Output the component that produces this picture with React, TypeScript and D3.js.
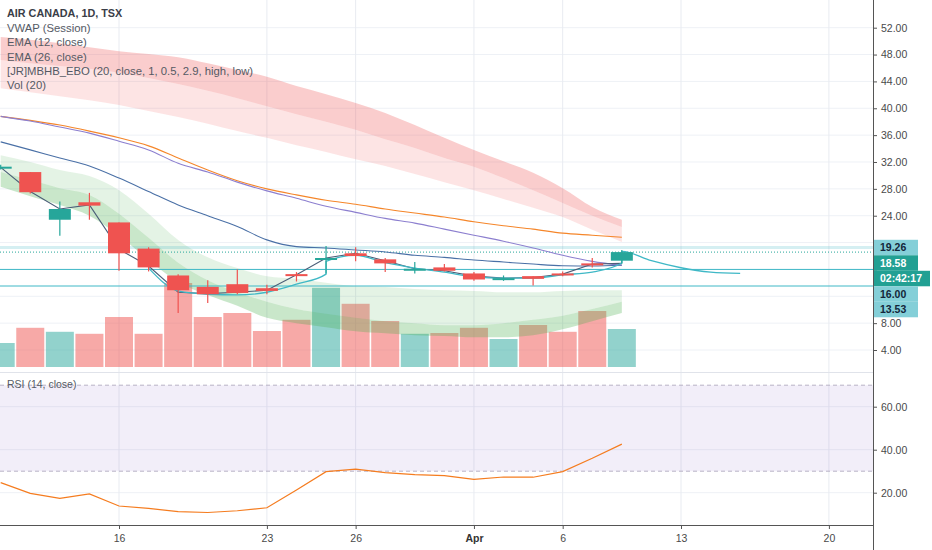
import React, { useEffect, useRef } from "react";
import * as d3 from "d3";

// trading days, Mar 10 .. Apr 8 2020 (index 0..21); index 22+ = future days
const days = [
  "Mar 10", "Mar 11", "Mar 12", "Mar 13", "Mar 16", "Mar 17", "Mar 18", "Mar 19",
  "Mar 20", "Mar 23", "Mar 24", "Mar 25", "Mar 26", "Mar 27", "Mar 30", "Mar 31",
  "Apr 1", "Apr 2", "Apr 3", "Apr 6", "Apr 7", "Apr 8",
];
const open = [31.1, 30.5, 23.4, 26.0, 23.0, 19.1, 15.1, 13.4, 13.8, 13.2, 15.3, 17.5, 18.4, 17.5, 16.0, 16.3, 15.4, 14.6, 15.0, 15.4, 16.9, 17.3];
const high = [31.6, 30.5, 26.1, 27.4, 23.0, 19.3, 15.3, 14.4, 16.0, 13.7, 15.6, 19.5, 19.3, 17.7, 17.1, 16.8, 15.6, 15.1, 15.0, 15.7, 17.7, 18.9];
const low = [30.9, 27.3, 21.0, 23.4, 15.8, 15.7, 9.5, 11.0, 12.3, 12.3, 14.2, 15.4, 17.2, 15.6, 15.4, 15.7, 14.3, 14.3, 13.6, 15.0, 16.3, 16.9];
const close = [31.3, 27.5, 25.0, 25.5, 18.4, 16.3, 12.9, 12.3, 12.5, 12.8, 15.0, 17.7, 18.0, 16.9, 16.1, 15.8, 14.5, 14.7, 14.6, 15.2, 16.7, 18.58];
const volume = [6.0, 9.8, 8.8, 8.3, 12.5, 8.3, 21.0, 12.5, 13.5, 9.0, 11.8, 19.8, 15.8, 11.5, 8.3, 8.5, 9.8, 7.0, 10.5, 8.8, 14.0, 9.5];

const vwap = [31.2, 27.6, 25.0, 25.6, 19.0, 16.5, 12.6, 12.4, 12.6, 12.9, 15.2, 17.7, 18.4, 17.3, 16.1, 15.8, 15.0, 14.7, 14.8, 15.3, 16.8, 16.9];
const ema12 = [35.0, 33.8, 32.6, 31.4, 29.6, 27.6, 25.6, 24.0, 22.4, 20.4, 19.4, 19.2, 18.9, 18.6, 18.1, 17.8, 17.4, 17.1, 16.8, 16.55, 16.5, 16.65];
const ema26 = [38.8, 38.2, 37.5, 36.6, 35.6, 34.4, 32.6, 30.8, 29.2, 28.0, 27.1, 26.3, 25.7, 25.0, 24.4, 23.8, 23.1, 22.5, 22.0, 21.4, 21.1, 20.8];
const signal = [38.8, 38.1, 37.2, 36.3, 35.1, 33.8, 31.8, 30.5, 29.0, 27.7, 26.6, 25.4, 24.5, 23.6, 22.9, 22.0, 21.1, 20.2, 19.2, 18.1, 17.2, 16.6];

// EBO bands
const redTop = [50.6, 50.2, 49.7, 49.1, 48.5, 48.1, 47.6, 46.7, 45.7, 44.7, 43.3, 42.1, 40.8, 39.3, 37.5, 35.6, 33.8, 32.1, 30.4, 28.1, 25.3, 23.4];
const redMid = [47.2, 46.7, 46.3, 45.9, 45.3, 44.5, 43.6, 42.6, 41.5, 40.3, 39.1, 38.0, 36.8, 35.4, 34.1, 32.6, 31.3, 29.6, 27.8, 25.9, 24.0, 22.3];
const redLow = [43.0, 42.4, 41.8, 41.2, 40.5, 39.6, 38.7, 37.7, 36.6, 35.6, 34.5, 33.5, 32.4, 31.4, 30.2, 29.0, 27.8, 26.5, 25.2, 23.8, 21.9, 20.1];
const greenTop = [33.0, 32.0, 30.8, 29.9, 27.8, 24.3, 20.4, 17.8, 16.2, 15.0, 14.6, 14.0, 13.5, 13.4, 13.1, 12.9, 12.8, 12.6, 12.6, 12.8, 12.9, 12.9];
const greenMid = [30.5, 29.3, 28.1, 27.1, 24.3, 20.7, 17.0, 14.4, 12.6, 11.2, 10.1, 9.4, 8.8, 8.3, 8.0, 7.7, 7.7, 8.0, 8.5, 9.1, 10.1, 11.2];
const greenLow = [28.3, 26.9, 25.6, 24.0, 21.0, 17.4, 14.1, 12.2, 10.6, 8.8, 8.0, 7.4, 6.8, 6.5, 6.2, 6.1, 5.9, 5.9, 6.2, 7.1, 8.3, 9.5];

// cyan line: [bar index, value]
const cyanLine: [number, number][] = [
  [5, 16.2], [6, 12.8], [7, 12.3], [8, 12.2], [9, 12.6], [10, 13.8], [11, 15.3], [11, 17.2],
  [12, 18.1], [13, 17.0], [14, 16.2], [15, 15.6], [16, 14.9], [17, 14.7], [18, 14.7], [19, 15.2],
  [20, 15.6], [21, 16.96], [21, 18.7], [22, 17.3], [23, 16.25], [24, 15.6], [25, 15.4],
];

const rsi = [24.7, 19.7, 17.4, 19.4, 13.8, 12.7, 11.2, 10.8, 11.6, 13.0, 21.3, 29.8, 31.0, 29.3, 28.4, 27.9, 26.2, 27.3, 27.2, 29.8, 36.0, 42.6];

const priceTicks = d3.range(4, 53, 4);
const hiddenTickLabels = [12, 16, 20]; // covered by the price tags
const rsiTicks = [20, 40, 60];
const timeTickIdx = [4, 9, 12, 16, 19, 23, 28];
const timeTickLabels = ["16", "23", "26", "Apr", "6", "13", "20"];

const priceTags = [
  { v: 19.26, label: "19.26", dark: false },
  { v: 18.58, label: "18.58", dark: true },
  { v: 18.58, label: "02:42:17", dark: true },
  { v: 16.0, label: "16.00", dark: false },
  { v: 13.53, label: "13.53", dark: false },
];

const legend = [
  "VWAP (Session)",
  "EMA (12, close)",
  "EMA (26, close)",
  "[JR]MBHB_EBO (20, close, 1, 0.5, 2.9, high, low)",
  "Vol (20)",
];

const RED = "#ef5350";
const TEAL = "#26a69a";
const CYAN = "#3fb8c6";
const FONT = "'Liberation Sans', Arial, sans-serif";

const Chart: React.FC = () => {
  const ref = useRef<SVGSVGElement | null>(null);

  useEffect(() => {
    if (!ref.current) return;
    const svg = d3.select(ref.current);
    svg.selectAll("*").remove();

    const W = 932;
    const H = 550;
    const axisX = 873;
    const paneBottom = 372;
    const rsiBottom = 525;

    const x = d3.scaleLinear().domain([4, 23]).range([119, 681]);
    const y = d3.scaleLinear().domain([4, 52]).range([350, 27.7]);
    const yVol = d3.scaleLinear().domain([0, 25]).range([367, 267]);
    const yR = d3.scaleLinear().domain([20, 60]).range([492.7, 406.7]);

    svg.append("rect").attr("width", W).attr("height", H).attr("fill", "#fff");

    const defs = svg.append("defs");
    defs.append("clipPath").attr("id", "clipPrice")
      .append("rect").attr("x", 0).attr("y", 0).attr("width", axisX).attr("height", paneBottom);
    defs.append("clipPath").attr("id", "clipRsi")
      .append("rect").attr("x", 0).attr("y", paneBottom + 1).attr("width", axisX).attr("height", rsiBottom - paneBottom - 1);

    // grid
    const grid = svg.append("g");
    priceTicks.forEach((t) => {
      grid.append("line").attr("x1", 0).attr("x2", axisX).attr("y1", y(t)).attr("y2", y(t))
        .attr("stroke", "#eef1f6").attr("stroke-width", 1);
    });
    rsiTicks.forEach((t) => {
      grid.append("line").attr("x1", 0).attr("x2", axisX).attr("y1", yR(t)).attr("y2", yR(t))
        .attr("stroke", "#eef1f6").attr("stroke-width", 1);
    });
    timeTickIdx.forEach((t) => {
      grid.append("line").attr("x1", x(t)).attr("x2", x(t)).attr("y1", 0).attr("y2", rsiBottom)
        .attr("stroke", "#e8ebf1").attr("stroke-width", 1);
    });

    const price = svg.append("g").attr("clip-path", "url(#clipPrice)");
    const idx = d3.range(days.length);
    const bw = 29.6;

    // volume
    price.append("g").selectAll("rect").data(idx).join("rect")
      .attr("x", (i) => x(i) - bw / 2 + 0.8)
      .attr("width", bw - 1.6)
      .attr("y", (i) => yVol(volume[i]))
      .attr("height", (i) => yVol(0) - yVol(volume[i]))
      .attr("fill", (i) => (close[i] >= open[i] ? TEAL : RED))
      .attr("fill-opacity", 0.5);

    // bands
    const band = (a: number[], b: number[], color: string, op: number) => {
      const area = d3.area<number>()
        .x((i) => x(i))
        .y0((i) => y(a[i]))
        .y1((i) => y(b[i]))
        .curve(d3.curveMonotoneX);
      price.append("path").datum(idx).attr("d", area).attr("fill", color).attr("fill-opacity", op);
    };
    band(redTop, redMid, "#f05a5a", 0.3);
    band(redMid, redLow, "#f05a5a", 0.16);
    band(greenTop, greenMid, "#4caf50", 0.15);
    band(greenMid, greenLow, "#4caf50", 0.3);

    // horizontal price lines
    price.append("line").attr("x1", 0).attr("x2", axisX).attr("y1", y(19.26)).attr("y2", y(19.26))
      .attr("stroke", CYAN).attr("stroke-opacity", 0.22).attr("stroke-width", 3);
    price.append("line").attr("x1", 0).attr("x2", axisX).attr("y1", y(18.58)).attr("y2", y(18.58))
      .attr("stroke", TEAL).attr("stroke-width", 1).attr("stroke-dasharray", "1,2");
    [16.0, 13.53].forEach((v) => {
      price.append("line").attr("x1", 0).attr("x2", axisX).attr("y1", y(v)).attr("y2", y(v))
        .attr("stroke", CYAN).attr("stroke-width", 1);
    });

    // indicator lines
    const line = (vals: number[], color: string, curve = d3.curveMonotoneX) => {
      const l = d3.line<number>().x((i) => x(i)).y((i) => y(vals[i])).curve(curve);
      price.append("path").datum(idx).attr("d", l).attr("fill", "none")
        .attr("stroke", color).attr("stroke-width", 1.1);
    };
    line(ema26, "#f5862a");
    line(signal, "#8c7fcf");
    line(ema12, "#4a70a6");
    line(vwap, "#4b5e78", d3.curveLinear);

    const cyan = d3.line<[number, number]>().x((d) => x(d[0])).y((d) => y(d[1])).curve(d3.curveMonotoneX);
    price.append("path").datum(cyanLine).attr("d", cyan).attr("fill", "none")
      .attr("stroke", CYAN).attr("stroke-width", 1.3);

    // candles
    const cw = 22;
    const candles = price.append("g").selectAll("g").data(idx).join("g");
    candles.append("line")
      .attr("x1", (i) => x(i)).attr("x2", (i) => x(i))
      .attr("y1", (i) => y(high[i])).attr("y2", (i) => y(low[i]))
      .attr("stroke", (i) => (close[i] >= open[i] ? TEAL : RED)).attr("stroke-width", 1.2);
    candles.append("rect")
      .attr("x", (i) => x(i) - cw / 2)
      .attr("width", cw)
      .attr("y", (i) => y(Math.max(open[i], close[i])))
      .attr("height", (i) => Math.max(2, Math.abs(y(open[i]) - y(close[i]))))
      .attr("fill", (i) => (close[i] >= open[i] ? TEAL : RED));

    // RSI pane
    const rsiG = svg.append("g").attr("clip-path", "url(#clipRsi)");
    rsiG.append("rect").attr("x", 0).attr("width", axisX)
      .attr("y", yR(70)).attr("height", yR(30) - yR(70))
      .attr("fill", "#7e57c2").attr("fill-opacity", 0.1);
    [70, 30].forEach((v) => {
      rsiG.append("line").attr("x1", 0).attr("x2", axisX).attr("y1", yR(v)).attr("y2", yR(v))
        .attr("stroke", "#b8b2c6").attr("stroke-dasharray", "4,3");
    });
    const rsiLine = d3.line<number>().x((i) => x(i)).y((i) => yR(rsi[i]));
    rsiG.append("path").datum(idx).attr("d", rsiLine).attr("fill", "none")
      .attr("stroke", "#f57c1f").attr("stroke-width", 1.2);

    // pane divider and axis lines
    svg.append("line").attr("x1", 0).attr("x2", axisX).attr("y1", paneBottom + 0.5).attr("y2", paneBottom + 0.5)
      .attr("stroke", "#e0e3ea");
    svg.append("line").attr("x1", 0).attr("x2", axisX).attr("y1", rsiBottom + 0.5).attr("y2", rsiBottom + 0.5)
      .attr("stroke", "#555");
    svg.append("line").attr("x1", axisX + 0.5).attr("x2", axisX + 0.5).attr("y1", 0).attr("y2", H)
      .attr("stroke", "#555");

    const styleAxis = (g: d3.Selection<SVGGElement, unknown, null, undefined>) => {
      g.select(".domain").remove();
      g.selectAll("line").attr("stroke", "#555");
      g.selectAll("text").attr("fill", "#4a4a4a").style("font-family", FONT).style("font-size", "10.5px");
    };

    svg.append("g").attr("transform", `translate(${axisX},0)`)
      .call(d3.axisRight(y).tickValues(priceTicks)
        .tickFormat((d) => (hiddenTickLabels.includes(+d) ? "" : d3.format(".2f")(+d)))
        .tickSize(4).tickPadding(4))
      .call(styleAxis);
    svg.append("g").attr("transform", `translate(${axisX},0)`)
      .call(d3.axisRight(yR).tickValues(rsiTicks).tickFormat(d3.format(".2f")).tickSize(4).tickPadding(4))
      .call(styleAxis);
    const xAxis = svg.append("g").attr("transform", `translate(0,${rsiBottom})`)
      .call(d3.axisBottom(x).tickValues(timeTickIdx)
        .tickFormat((_, i) => timeTickLabels[i]).tickSize(4).tickPadding(6))
      .call(styleAxis);
    xAxis.selectAll("text").filter((d) => d === 16).attr("font-weight", "bold").attr("fill", "#333");

    // price tags on the axis
    let prev = -Infinity;
    const tagH = 15.5;
    priceTags.forEach((t) => {
      const cy = Math.max(y(t.v), prev + tagH);
      prev = cy;
      const w = t.label.length > 5 ? 56 : 44;
      svg.append("rect").attr("x", axisX + 1).attr("y", cy - tagH / 2).attr("width", w).attr("height", tagH)
        .attr("fill", t.dark ? "#22a093" : "#84cfd8");
      svg.append("text").attr("x", axisX + 7).attr("y", cy).attr("dy", "0.35em")
        .style("font-family", FONT).style("font-size", "10.5px").attr("font-weight", 600)
        .attr("fill", t.dark ? "#fff" : "#13263a")
        .text(t.label);
    });

    // legends
    svg.append("text").attr("x", 7).attr("y", 13).attr("dy", "0.35em")
      .style("font-family", FONT).style("font-size", "10.8px").attr("font-weight", "bold")
      .attr("fill", "#3a3e48").text("AIR CANADA, 1D, TSX");
    legend.forEach((s, k) => {
      svg.append("text").attr("x", 7).attr("y", 28 + k * 14.3).attr("dy", "0.35em")
        .style("font-family", FONT).style("font-size", "11.3px")
        .attr("fill", "#555a64").text(s);
    });
    svg.append("text").attr("x", 7).attr("y", 384).attr("dy", "0.35em")
      .style("font-family", FONT).style("font-size", "10.5px")
      .attr("fill", "#555a64").text("RSI (14, close)");
  }, []);

  return <svg ref={ref} width={932} height={550} style={{ display: "block" }}></svg>;
};

export default function App() {
  return (
    <div style={{ position: "fixed", left: 0, top: 0, width: 932, height: 550 }}>
      <Chart />
    </div>
  );
}
